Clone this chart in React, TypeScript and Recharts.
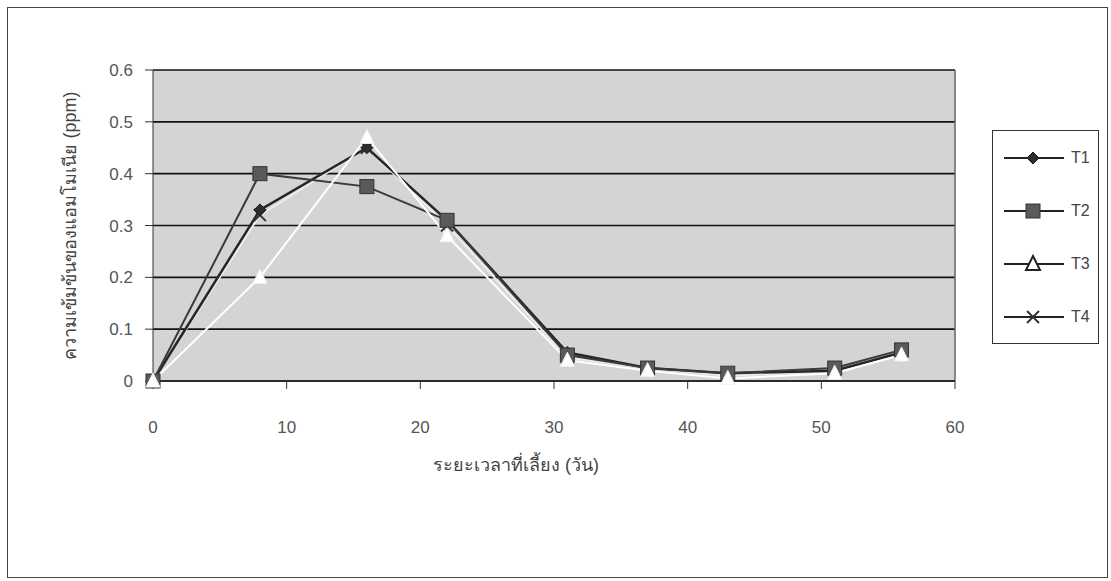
import { LineChart, Line, XAxis, YAxis, CartesianGrid, Legend, ReferenceLine } from 'recharts';

const days = [0, 8, 16, 22, 31, 37, 43, 51, 56];
const t1 = [0, 0.33, 0.45, 0.31, 0.055, 0.025, 0.015, 0.02, 0.055];
const t2 = [0, 0.4, 0.375, 0.31, 0.05, 0.025, 0.015, 0.025, 0.06];
const t3 = [0, 0.2, 0.47, 0.28, 0.04, 0.02, 0.005, 0.015, 0.05];
const t4 = [0, 0.32, 0.45, 0.3, 0.045, 0.025, 0.01, 0.02, 0.05];
const xTicks = [0, 10, 20, 30, 40, 50, 60];
const yTicks = [0, 0.1, 0.2, 0.3, 0.4, 0.5, 0.6];
const seriesNames = ['T1', 'T2', 'T3', 'T4'];
const xTitle = 'ระยะเวลาที่เลี้ยง (วัน)';
const yTitle = 'ความเข้มข้นของแอมโมเนีย (ppm)';

const data = days.map((d, i) => ({ day: d, T1: t1[i], T2: t2[i], T3: t3[i], T4: t4[i] }));

const FONT = '"Liberation Sans", Arial, "DejaVu Sans", "Noto Sans", sans-serif';

const styles: Record<string, { stroke: string; width: number; marker: string }> = {
  T1: { stroke: '#262626', width: 2.5, marker: 'diamond' },
  T2: { stroke: '#3a3a3a', width: 2, marker: 'square' },
  T3: { stroke: '#ffffff', width: 2, marker: 'triangle' },
  T4: { stroke: '#ececec', width: 2, marker: 'x' },
};

function Marker({ kind, cx, cy, legend }: { kind: string; cx: number; cy: number; legend?: boolean }) {
  if (cx == null || cy == null) return null;
  if (kind === 'diamond')
    return <polygon points={`${cx},${cy - 6} ${cx + 6},${cy} ${cx},${cy + 6} ${cx - 6},${cy}`} fill="#2e2e2e" stroke="#1c1c1c" />;
  if (kind === 'square')
    return <rect x={cx - 7} y={cy - 7} width={14} height={14} fill="#5a5a5a" stroke="#333" />;
  if (kind === 'triangle')
    return (
      <polygon
        points={`${cx},${cy - 8} ${cx + 7},${cy + 6} ${cx - 7},${cy + 6}`}
        fill="#fff"
        stroke={legend ? '#222' : '#f2f2f2'}
        strokeWidth={legend ? 2 : 1}
      />
    );
  return (
    <g stroke="#333" strokeWidth={2}>
      <line x1={cx - 6} y1={cy - 6} x2={cx + 6} y2={cy + 6} />
      <line x1={cx - 6} y1={cy + 6} x2={cx + 6} y2={cy - 6} />
    </g>
  );
}

const renderLegend = () => (
  <div style={{ width: 107, height: 214, border: '1px solid #333', boxSizing: 'border-box', background: '#fff' }}>
    {seriesNames.map((name) => (
      <div key={name} style={{ height: 53, display: 'flex', alignItems: 'center' }}>
        <svg width={74} height={20} style={{ display: 'block' }}>
          <line x1={11} y1={10} x2={71} y2={10} stroke="#222" strokeWidth={2} />
          <Marker kind={styles[name].marker} cx={40} cy={10} legend />
        </svg>
        <span style={{ fontFamily: FONT, fontSize: 16, color: '#444', marginLeft: 4 }}>{name}</span>
      </div>
    ))}
  </div>
);

export default function App() {
  const order = ['T4', 'T1', 'T2', 'T3'];
  return (
    <div style={{ position: 'fixed', left: 0, top: 0, width: 1111, height: 581, background: '#fff', fontFamily: FONT }}>
      <div
        style={{
          position: 'absolute',
          left: 7,
          top: 7,
          width: 1101,
          height: 571,
          border: '1px solid #444',
          boxSizing: 'border-box',
        }}
      />
      <LineChart
        width={1111}
        height={581}
        data={data}
        margin={{ top: 70, right: 49, bottom: 100, left: 0 }}
        style={{ position: 'absolute', left: 0, top: 0 }}
      >
        <CartesianGrid vertical={false} stroke="#111" strokeWidth={1.6} fill="#d4d4d4" fillOpacity={1} />
        <XAxis
          type="number"
          dataKey="day"
          domain={[0, 60]}
          ticks={xTicks}
          height={100}
          tickSize={8}
          tickMargin={32}
          axisLine={{ stroke: '#222', strokeWidth: 1.5 }}
          tickLine={{ stroke: '#333' }}
          tick={{ fill: '#555', fontSize: 17, fontFamily: FONT }}
          label={{
            value: xTitle,
            content: ({ viewBox }: any) => (
              <text
                x={viewBox.x + viewBox.width / 2 - 38}
                y={viewBox.y + 90}
                textAnchor="middle"
                fontSize={18}
                fill="#444"
                fontFamily={FONT}
              >
                {xTitle}
              </text>
            ),
          }}
        />
        <YAxis
          domain={[0, 0.6]}
          ticks={yTicks}
          width={153}
          tickSize={8}
          tickMargin={12}
          axisLine={{ stroke: '#333' }}
          tickLine={{ stroke: '#333' }}
          tick={{ fill: '#555', fontSize: 17, fontFamily: FONT }}
          label={{
            value: yTitle,
            content: ({ viewBox }: any) => {
              const cx = viewBox.x + 70;
              const cy = viewBox.y + viewBox.height / 2;
              return (
                <text
                  x={cx}
                  y={cy}
                  transform={`rotate(-90 ${cx} ${cy})`}
                  textAnchor="middle"
                  dominantBaseline="central"
                  fontSize={18}
                  fill="#444"
                  fontFamily={FONT}
                >
                  {yTitle}
                </text>
              );
            },
          }}
        />
        <ReferenceLine x={60} stroke="#666" strokeWidth={1.5} />
        <Legend
          layout="vertical"
          align="right"
          verticalAlign="middle"
          content={renderLegend}
          wrapperStyle={{ position: 'absolute', left: 992, top: 130, width: 107, height: 214 }}
        />
        {order.map((name) => (
          <Line
            key={name}
            type="linear"
            dataKey={name}
            name={name}
            stroke={styles[name].stroke}
            strokeWidth={styles[name].width}
            isAnimationActive={false}
            dot={(p: any) => <Marker key={`${name}-${p.index}`} kind={styles[name].marker} cx={p.cx} cy={p.cy} />}
            activeDot={false}
          />
        ))}
      </LineChart>
    </div>
  );
}
